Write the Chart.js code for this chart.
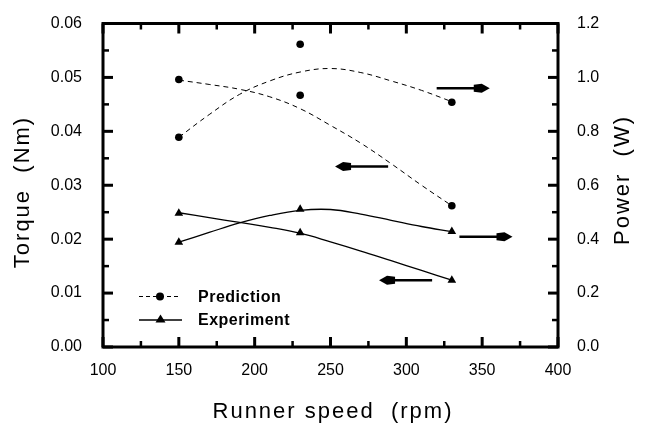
<!DOCTYPE html>
<html>
<head>
<meta charset="utf-8">
<script src="https://cdn.jsdelivr.net/npm/chart.js@4.4.1/dist/chart.umd.min.js"></script>
<style>
  html, body { margin: 0; padding: 0; background: #fff; }
  #wrap { width: 663px; height: 441px; }
</style>
</head>
<body>
<div id="wrap"><canvas id="chart" width="663" height="441"></canvas></div>
<script>
// measured / predicted points
const speeds = [150, 230, 330];
const torquePredicted = [0.0496, 0.0467, 0.0262];
const powerPredicted = [0.778, 1.123, 0.908];
const torqueMeasured = [0.0248, 0.0212, 0.0124];
const powerMeasured = [0.389, 0.511, 0.428];

// fitted curves
const fitSpeeds = [150, 170, 190, 210, 230, 250, 270, 290, 310, 330];
const torquePredictedFit = [0.0495, 0.0487, 0.0478, 0.0464, 0.0442, 0.0411, 0.0378, 0.0340, 0.0300, 0.0262];
const powerPredictedFit = [0.778, 0.862, 0.937, 0.987, 1.020, 1.033, 1.018, 0.987, 0.952, 0.910];
const torqueMeasuredFit = [0.0249, 0.0240, 0.0231, 0.0222, 0.0211, 0.0195, 0.0178, 0.0160, 0.0142, 0.0124];
const powerMeasuredFit = [0.389, 0.425, 0.460, 0.488, 0.507, 0.510, 0.493, 0.470, 0.447, 0.428];

// arrows pointing at the axis each curve belongs to
const arrowFrom = [320, 288, 335, 317];
const arrowTo = [355, 253, 370, 282];
const arrowValue = [0.96, 0.0335, 0.409, 0.0124];
const arrowAxis = ['y2', 'y', 'y2', 'y'];

// tick values
const speedTicks = [100, 150, 200, 250, 300, 350, 400];
const torqueTicks = [0, 0.01, 0.02, 0.03, 0.04, 0.05, 0.06];
const powerTicks = [0, 0.2, 0.4, 0.6, 0.8, 1.0, 1.2];

const FONT = "'Liberation Sans', Arial, sans-serif";
Chart.defaults.font.family = FONT;
Chart.defaults.color = '#000';

const xy = (xs, ys) => xs.map((x, i) => ({ x: x, y: ys[i] }));
const setTicks = vals => scale => { scale.ticks = vals.map(v => ({ value: v })); };
const minors = vals => vals.slice(1).map((v, i) => (v + vals[i]) / 2);

function fitLine(data, axis, dashed) {
  return {
    type: 'line', data: data, yAxisID: axis,
    borderColor: '#000', borderWidth: dashed ? 1 : 1.3,
    borderDash: dashed ? [5, 4] : [],
    pointRadius: 0, tension: 0.4, fill: false
  };
}
function marks(data, axis, style, r) {
  return {
    type: 'scatter', data: data, yAxisID: axis,
    pointStyle: style, pointRadius: r, pointHoverRadius: r,
    backgroundColor: '#000', borderColor: '#000', borderWidth: 0, showLine: false
  };
}

const decorations = {
  id: 'decorations',
  beforeLayout(chart) { chart.ctx.letterSpacing = '0px'; },
  beforeDraw(chart) { chart.ctx.letterSpacing = '0px'; },
  afterDraw(chart) {
    const { ctx, chartArea: a, scales } = chart;
    ctx.save();
    ctx.strokeStyle = '#000';
    ctx.fillStyle = '#000';

    // tick marks, pointing inward on all four sides
    function xMarks(vals, len, w) {
      ctx.lineWidth = w;
      vals.forEach(v => {
        const px = scales.x.getPixelForValue(v);
        ctx.beginPath();
        ctx.moveTo(px, a.bottom); ctx.lineTo(px, a.bottom - len);
        ctx.moveTo(px, a.top); ctx.lineTo(px, a.top + len);
        ctx.stroke();
      });
    }
    function yMarks(scale, vals, len, w, right) {
      ctx.lineWidth = w;
      vals.forEach(v => {
        const py = scale.getPixelForValue(v);
        const x0 = right ? a.right : a.left;
        ctx.beginPath();
        ctx.moveTo(x0, py); ctx.lineTo(right ? x0 - len : x0 + len, py);
        ctx.stroke();
      });
    }
    xMarks(speedTicks, 10, 3);
    xMarks(minors(speedTicks), 6, 2.5);
    yMarks(scales.y, torqueTicks, 10, 3, false);
    yMarks(scales.y, minors(torqueTicks), 6, 2.5, false);
    yMarks(scales.y2, powerTicks, 10, 3, true);
    yMarks(scales.y2, minors(powerTicks), 6, 2.5, true);

    // frame
    ctx.lineWidth = 3;
    ctx.strokeRect(a.left, a.top, a.right - a.left, a.bottom - a.top);

    // arrows
    arrowFrom.forEach((from, i) => {
      const y = scales[arrowAxis[i]].getPixelForValue(arrowValue[i]);
      const x1 = scales.x.getPixelForValue(from);
      const x2 = scales.x.getPixelForValue(arrowTo[i]);
      const d = x2 > x1 ? 1 : -1;
      ctx.lineWidth = 2.5;
      ctx.beginPath();
      ctx.moveTo(x1, y); ctx.lineTo(x2 - d * 10, y);
      ctx.stroke();
      ctx.beginPath();
      ctx.moveTo(x2, y);
      ctx.lineTo(x2 - d * 8, y - 4.5);
      ctx.lineTo(x2 - d * 16, y - 3.5);
      ctx.lineTo(x2 - d * 16, y + 3.5);
      ctx.lineTo(x2 - d * 8, y + 4.5);
      ctx.closePath();
      ctx.fill();
    });

    // legend
    ctx.lineWidth = 1;
    ctx.setLineDash([4, 3]);
    ctx.beginPath(); ctx.moveTo(139, 296.5); ctx.lineTo(181, 296.5); ctx.stroke();
    ctx.setLineDash([]);
    ctx.beginPath(); ctx.arc(160, 296.5, 4, 0, Math.PI * 2); ctx.fill();
    ctx.lineWidth = 1.3;
    ctx.beginPath(); ctx.moveTo(139, 320); ctx.lineTo(182, 320); ctx.stroke();
    ctx.beginPath();
    ctx.moveTo(160.5, 314.5); ctx.lineTo(165.5, 322.5); ctx.lineTo(155.5, 322.5);
    ctx.closePath(); ctx.fill();
    ctx.letterSpacing = '0.5px';
    ctx.font = 'bold 16px ' + FONT;
    ctx.textAlign = 'left';
    ctx.textBaseline = 'alphabetic';
    ctx.fillText('Prediction', 198, 302);
    ctx.fillText('Experiment', 198, 325);

    // axis titles
    ctx.letterSpacing = '2px';
    ctx.font = '22px ' + FONT;
    ctx.textAlign = 'center';
    ctx.fillText('Runner speed  (rpm)', 333, 418);
    ctx.save();
    ctx.translate(29, 193);
    ctx.rotate(-Math.PI / 2);
    ctx.fillText('Torque  (Nm)', 1, 0);
    ctx.restore();
    ctx.save();
    ctx.translate(629, 181);
    ctx.rotate(-Math.PI / 2);
    ctx.fillText('Power  (W)', 1, 0);
    ctx.restore();
    ctx.letterSpacing = '0px';
    ctx.restore();
  }
};

new Chart(document.getElementById('chart'), {
  type: 'scatter',
  data: {
    datasets: [
      fitLine(xy(fitSpeeds, torquePredictedFit), 'y', true),
      fitLine(xy(fitSpeeds, powerPredictedFit), 'y2', true),
      fitLine(xy(fitSpeeds, torqueMeasuredFit), 'y', false),
      fitLine(xy(fitSpeeds, powerMeasuredFit), 'y2', false),
      marks(xy(speeds, torquePredicted), 'y', 'circle', 3.8),
      marks(xy(speeds, powerPredicted), 'y2', 'circle', 3.8),
      marks(xy(speeds, torqueMeasured), 'y', 'triangle', 5),
      marks(xy(speeds, powerMeasured), 'y2', 'triangle', 5)
    ]
  },
  options: {
    responsive: false,
    animation: false,
    events: [],
    layout: { padding: { top: 23.5, left: 0, right: 0, bottom: 0 } },
    plugins: { legend: { display: false }, tooltip: { enabled: false } },
    scales: {
      x: {
        type: 'linear', position: 'bottom', min: 100, max: 400,
        afterBuildTicks: setTicks(speedTicks),
        afterFit: s => { s.height = 94; },
        grid: { display: false }, border: { display: false },
        ticks: { font: { size: 16 }, padding: 6, maxRotation: 0, callback: v => String(v) }
      },
      y: {
        type: 'linear', position: 'left', min: 0, max: 0.06,
        afterBuildTicks: setTicks(torqueTicks),
        afterFit: s => { s.width = 103; },
        grid: { display: false }, border: { display: false },
        ticks: { font: { size: 16 }, padding: 13, callback: v => v.toFixed(2) }
      },
      y2: {
        type: 'linear', position: 'right', min: 0, max: 1.2,
        afterBuildTicks: setTicks(powerTicks),
        afterFit: s => { s.width = 105; },
        grid: { display: false }, border: { display: false },
        ticks: { font: { size: 16 }, padding: 11, callback: v => v.toFixed(1) }
      }
    }
  },
  plugins: [decorations]
});
</script>
</body>
</html>
